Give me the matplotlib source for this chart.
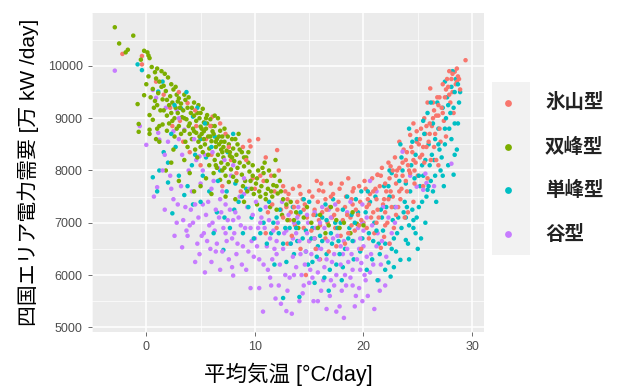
import numpy as np
import matplotlib
matplotlib.use("Agg")
import matplotlib.pyplot as plt

# daily mean temperature [degC] vs. Shikoku area demand [10^4 kW/day], by load-curve type
labels = ["氷山型", "双峰型", "単峰型", "谷型"]
colors = ["#F8766D", "#7CAE00", "#00BFC4", "#C77CFF"]
x_ticks = [0, 10, 20, 30]
y_ticks = [5000, 6000, 7000, 8000, 9000, 10000]

hyozan = [
    (-2.2, 10230), (-0.4, 10190), (-0.4, 10030), (0.9, 9700), (1.6, 9450), (2.2, 9200), (3.8, 9290),
    (3.1, 8950), (4.6, 8850), (6.1, 9030), (5.5, 8600), (6.8, 8900), (7.3, 8700), (4.0, 8350),
    (6.0, 8300), (7.8, 8200), (8.9, 8450), (9.5, 8570), (10.3, 8600), (9.6, 8460), (12.05, 8390),
    (8.3, 7950), (9.8, 7850), (10.8, 7800), (11.5, 7900), (7.0, 7700), (10.0, 7650), (11.8, 7600),
    (12.6, 7700), (8.7, 7600), (2.4, 8850), (5.0, 8100), (3.4, 8550), (12.2, 8000), (11.0, 8250),
    (12.8, 7600), (13.5, 7650), (14.2, 7550), (13.0, 7450), (13.9, 7400), (14.6, 7350), (15.3, 7500),
    (15.9, 7620), (16.5, 7450), (17.2, 7550), (17.8, 7650), (18.4, 7500), (19.0, 7600), (19.6, 7700),
    (12.4, 7250), (13.3, 7200), (14.0, 7150), (14.8, 7100), (15.5, 7250), (16.2, 7200), (16.9, 7300),
    (17.6, 7250), (18.3, 7300), (19.0, 7350), (19.7, 7400), (13.7, 6950), (14.5, 6900), (15.2, 6850),
    (16.0, 6950), (16.7, 7000), (17.4, 6900), (18.1, 7050), (18.8, 7100), (19.5, 7150), (15.0, 6650),
    (16.5, 6700), (17.9, 6750), (19.2, 6850), (14.2, 6500), (16.0, 6300), (11.2, 7200), (12.0, 6900),
    (11.0, 6800), (13.0, 6600), (17.0, 7750), (15.7, 7800), (14.7, 6000), (19.1, 7660), (18.6, 7850),
    (13.2, 7050), (15.9, 7050), (17.1, 7100), (18.9, 6950), (14.4, 7450), (16.3, 7600), (12.9, 7300),
    (20.0, 7000), (20.3, 7300), (20.6, 7550), (20.9, 7200), (21.2, 7450), (21.5, 7700), (21.8, 7350),
    (22.1, 7600), (22.4, 7850), (22.7, 7500), (23.0, 7750), (23.3, 8050), (23.6, 7900), (23.9, 8200),
    (24.2, 8000), (24.5, 8350), (24.8, 8150), (25.1, 8500), (25.4, 8300), (25.7, 8700), (26.0, 8550),
    (26.3, 8850), (26.6, 8700), (26.9, 9050), (27.2, 9200), (27.5, 9400), (27.8, 9600), (28.1, 9750),
    (28.4, 9890), (28.7, 9800), (29.4, 10110), (28.0, 9300), (27.4, 8950), (26.5, 9150), (25.9, 9300),
    (20.2, 7650), (20.8, 7850), (21.3, 7920), (21.7, 8050), (22.0, 7200), (22.5, 8080), (22.9, 8250),
    (23.3, 8550), (23.7, 8400), (24.3, 8680), (24.6, 8900), (24.9, 8550), (25.3, 8800), (25.6, 9000),
    (26.15, 9570), (26.4, 9300), (26.8, 9400), (27.0, 8800), (27.3, 9650), (27.7, 9750), (28.2, 9500),
    (28.5, 9650), (28.9, 9550), (28.3, 9100), (27.6, 8650), (26.2, 8200), (25.0, 7900), (24.0, 7600),
    (23.2, 7300), (22.2, 7000), (21.0, 6800), (20.5, 6700), (23.8, 7100), (24.6, 7400), (25.5, 7700),
    (21.4, 7100), (22.8, 6900), (21.6, 6520), (21.9, 6730), (21.3, 7916), (22.5, 7600), (23.5, 7650),
    (24.1, 8100), (25.2, 8250), (26.1, 8900), (26.9, 9250), (27.9, 9450), (20.7, 7100), (21.1, 7650),
    (22.3, 8150), (23.1, 8000), (24.4, 8450), (25.8, 8450), (27.1, 8550), (28.6, 9700), (22.6, 7300),
    (24.7, 7750), (26.7, 8200), (20.4, 7450), (21.9, 7450), (23.4, 7450),
    (13.1, 7550), (13.6, 7300), (14.1, 7700), (14.5, 7250), (15.0, 7600), (15.4, 7150), (15.8, 7400),
    (16.1, 7750), (16.6, 7250), (17.0, 7500), (17.3, 7150), (17.7, 7400), (18.0, 7750), (18.5, 7150),
    (18.9, 7450), (19.3, 7250), (19.8, 7050), (20.1, 7800), (20.5, 7350), (20.9, 7600), (21.3, 7250),
    (21.6, 7900), (22.0, 7750), (22.3, 7450), (22.7, 8000), (23.0, 7900), (23.3, 7600), (23.6, 8150),
    (24.0, 8350), (24.3, 7950), (24.6, 8200), (24.9, 8750), (25.2, 8600), (25.5, 8450), (25.8, 8850),
    (26.1, 8700), (26.4, 9000), (26.7, 9050), (27.0, 9400), (27.3, 9100), (27.6, 9550), (27.9, 9900),
    (28.2, 9850), (28.6, 9950), (28.8, 9750), (26.5, 8450), (25.6, 8150), (24.7, 8000), (23.9, 7800),
    (23.0, 7150), (22.0, 6950), (21.2, 7000), (20.3, 6900), (19.6, 6950), (18.6, 6800), (17.5, 6550),
    (12.6, 7100), (11.6, 7350), (10.5, 7900), (9.2, 8200), (7.6, 8450), (5.9, 8850), (4.5, 9150),
    (3.0, 9500), (13.4, 6750), (15.6, 6500), (16.8, 6450), (18.3, 6600), (19.8, 6500), (22.4, 6600),
    (24.1, 7200), (25.9, 7850), (26.9, 8100),
]

sohou = [
    (-2.9, 10740), (-1.2, 10580), (-2.5, 10430), (-1.7, 10310), (-1.9, 10260), (-0.2, 10290),
    (0.1, 10260), (0.2, 10200), (0.3, 10150), (-0.5, 10120),
    (0.5, 9980), (1.0, 9950), (0.8, 9880), (1.4, 9900), (1.7, 9850), (0.2, 9800), (0.9, 9760),
    (1.2, 9700), (2.0, 9780), (2.3, 9650), (1.6, 9620), (0.6, 9560), (1.1, 9480), (1.8, 9520),
    (2.5, 9550), (-0.2, 9440), (2.2, 9420), (1.5, 9360), (0.8, 9330), (-0.8, 9270), (2.8, 9450),
    (3.0, 9380), (0.3, 9060), (0.6, 8970), (1.2, 8850), (0.3, 8780), (-0.7, 8740), (-0.7, 8890),
    (2.4, 9300), (3.2, 9280), (3.6, 9350), (2.7, 9200), (3.4, 9150), (2.9, 9100), (3.8, 9200),
    (4.1, 9100), (2.6, 9000), (3.3, 9020), (4.4, 9050), (3.7, 8980), (2.1, 8900), (3.0, 8850),
    (4.0, 8900), (4.6, 8950), (1.5, 8880), (1.9, 8760), (0.3, 8700), (3.5, 8760), (4.3, 8800),
    (2.6, 8650), (1.2, 8550), (0.9, 8600), (2.1, 9250), (2.9, 9320), (3.9, 9400), (4.4, 9300),
    (1.3, 9150), (1.9, 9050), (2.4, 8950), (3.5, 9000),
    (4.8, 9250), (5.2, 9180), (5.6, 9060), (4.9, 9000), (5.3, 8920), (5.9, 8980), (6.3, 9050),
    (6.6, 9000), (5.0, 8840), (5.5, 8800), (6.0, 8850), (4.6, 8720), (5.1, 8700), (5.7, 8650),
    (6.2, 8700), (6.8, 8760), (4.2, 8600), (4.8, 8550), (5.4, 8500), (6.0, 8560), (6.5, 8600),
    (7.0, 8650), (3.8, 8450), (4.5, 8400), (5.2, 8350), (5.8, 8420), (6.4, 8450), (5.6, 8900),
    (6.1, 8750), (4.9, 8650), (5.3, 8600), (6.7, 8500), (7.2, 8800), (5.0, 9100), (4.0, 8700),
    (7.2, 8550), (7.6, 8500), (6.9, 8400), (7.4, 8380), (8.0, 8420), (8.4, 8500), (6.6, 8300),
    (7.1, 8250), (7.7, 8280), (8.3, 8300), (8.8, 8350), (6.3, 8200), (6.9, 8150), (7.5, 8120),
    (8.1, 8180), (8.6, 8150), (9.2, 8250), (5.8, 8100), (6.5, 8050), (7.0, 8000), (7.8, 8020),
    (8.4, 8050), (9.0, 8080), (6.2, 7950), (7.3, 7900), (8.0, 7880), (8.8, 7920), (9.5, 7980),
    (5.5, 7850), (6.8, 7820), (7.6, 7780), (9.1, 7800), (7.9, 8600), (8.5, 8700), (7.0, 8350),
    (9.8, 8100), (10.3, 8000), (10.8, 7950), (11.3, 8000), (11.8, 7900), (9.6, 7800), (10.1, 7750),
    (10.6, 7700), (11.2, 7650), (11.7, 7720), (12.3, 7800), (9.3, 7600), (9.9, 7550), (10.5, 7500),
    (11.0, 7450), (11.6, 7500), (12.1, 7560), (12.6, 7450), (9.0, 7400), (10.2, 7350), (11.4, 7300),
    (12.9, 7350), (13.3, 7400), (10.9, 8150), (11.9, 8200), (9.4, 8350),
    (3.5, 8200), (2.3, 8150), (4.0, 7950), (1.8, 8000), (5.0, 7700), (4.4, 7600), (6.0, 7550),
    (7.3, 7500), (8.2, 7450), (3.0, 7800),
    (13.8, 7200), (14.5, 7100), (15.2, 7000), (14.0, 6900), (16.0, 7150), (16.8, 6950), (17.5, 7050),
    (15.5, 6700), (18.2, 7000), (18.8, 6800), (19.4, 6980), (14.8, 7300), (13.0, 7050), (12.5, 7150),
    (16.5, 6800), (17.0, 7300),
    (0.0, 9650), (0.4, 9400), (1.0, 9250), (1.4, 9600), (1.9, 9350), (2.3, 9100), (2.7, 9600),
    (3.1, 9200), (3.5, 9450), (3.9, 8850), (4.2, 9200), (4.7, 9100), (5.1, 8800), (5.5, 9000),
    (5.9, 8650), (6.3, 8850), (6.7, 8650), (7.1, 8450), (7.5, 8650), (7.9, 8250), (8.2, 8600),
    (8.6, 8400), (9.0, 8250), (9.4, 8150), (9.8, 7900), (10.2, 7850), (10.7, 8050), (11.1, 7800),
    (11.5, 7600), (12.0, 7700), (12.4, 7600), (6.4, 8550), (5.3, 8750), (4.4, 8750), (3.2, 8700),
    (2.8, 8800), (1.6, 9150), (0.7, 9200), (6.9, 8550), (7.7, 8350), (8.3, 7800), (8.9, 7700),
    (9.7, 7650), (10.4, 7600), (11.0, 7550), (5.0, 8450), (5.7, 8300), (6.4, 8100), (7.2, 8050),
    (3.6, 8550), (4.7, 8250), (2.5, 8400), (1.0, 8800), (12.0, 7250), (13.6, 7050), (15.8, 6900),
    (17.8, 6900), (19.0, 7200), (20.0, 6950),
]

tanpou = [
    (-0.8, 10030), (-0.4, 9920), (1.5, 9700), (1.1, 9510), (3.2, 9190), (4.3, 9030), (5.0, 8600),
    (4.5, 8300), (6.3, 8650), (7.5, 8350), (8.0, 8700), (2.7, 8450), (1.6, 8350), (2.0, 8150),
    (6.8, 8000), (0.6, 7870), (2.0, 7770), (3.5, 7530), (2.4, 7180), (5.2, 7900), (5.8, 7600),
    (4.3, 7350), (7.1, 6480), (7.7, 6900), (8.5, 7400), (9.2, 7650), (6.5, 7200), (9.7, 7100),
    (10.5, 7250), (8.9, 6800), (3.8, 7700), (1.0, 7600), (5.5, 8250), (7.2, 7100), (8.1, 7250),
    (10.8, 7000), (11.5, 6800), (12.0, 7100), (12.6, 6600), (13.2, 6900), (13.6, 6400), (14.0, 7000),
    (14.4, 6700), (14.9, 6200), (15.3, 6900), (15.8, 6550), (16.2, 7100), (16.6, 6400), (17.0, 6800),
    (17.5, 6200), (17.9, 7000), (18.3, 6500), (18.7, 6900), (19.1, 6300), (19.5, 7200), (19.9, 6700),
    (12.6, 5560), (14.1, 5580), (15.5, 5850), (16.8, 5700), (18.0, 5900), (13.5, 7300), (15.0, 7400),
    (16.5, 7350), (18.5, 7500), (11.8, 6200), (17.2, 7450), (19.3, 7450), (11.3, 7400), (12.9, 6250),
    (14.7, 6850), (16.0, 6750), (17.7, 6650), (18.9, 7150), (13.9, 6650), (15.6, 7150), (17.4, 7000),
    (19.7, 6450), (12.3, 7250), (18.1, 6150), (16.9, 6100),
    (20.2, 7200), (20.5, 6800), (20.8, 6300), (21.1, 7500), (21.4, 6600), (21.7, 7100), (22.0, 6100),
    (22.3, 7700), (22.5, 5970), (22.6, 6500), (22.9, 7300), (23.1, 6800), (23.4, 6290), (23.6, 8000),
    (23.9, 7100), (24.1, 6600), (24.3, 7600), (24.6, 6900), (24.8, 8300), (25.1, 7300), (25.3, 6700),
    (25.5, 7900), (25.8, 7500), (26.0, 8500), (26.2, 7800), (26.5, 8200), (26.7, 7400), (26.9, 8800),
    (27.1, 8000), (27.3, 9200), (27.5, 8500), (27.7, 9400), (27.9, 8800), (28.1, 9600), (28.3, 9200),
    (28.5, 9750), (28.7, 8900), (28.9, 9500), (28.6, 8400), (27.8, 8100), (26.4, 8900), (25.6, 8700),
    (24.4, 8100), (23.3, 7800), (22.1, 7300), (21.0, 7000), (28.2, 9900), (27.5, 9700), (26.8, 9300),
    (25.9, 9100), (23.8, 7400), (24.9, 7100), (25.7, 7000), (26.4, 7600), (27.4, 7700), (28.4, 8300),
    (27.3, 7900), (28.3, 7920), (25.9, 7630), (24.6, 7050), (23.9, 6670), (22.3, 6240), (23.0, 6450),
    (24.2, 6300), (25.0, 6500), (22.8, 6150), (21.5, 6400), (20.9, 6650), (24.0, 7300), (25.2, 7700),
    (26.1, 8100), (27.0, 8400), (28.0, 9100), (28.8, 9300), (26.6, 8600), (25.4, 8100), (24.7, 7850),
    (23.7, 7200), (22.7, 7050), (21.8, 6850), (20.6, 7400), (27.6, 9000), (28.4, 9500), (24.5, 8550),
    (23.5, 8250), (22.4, 8000),
    (21.2, 6850), (21.6, 7250), (22.0, 6600), (22.4, 7500), (22.8, 6700), (23.2, 7100), (23.5, 6900),
    (23.9, 7750), (24.2, 6950), (24.5, 7250), (24.8, 6800), (25.1, 7900), (25.4, 7400), (25.7, 8200),
    (26.0, 7700), (26.3, 8300), (26.6, 7900), (26.9, 8500), (27.2, 8250), (27.5, 8800), (27.8, 9250),
    (28.1, 8600), (28.4, 8900), (28.7, 9650), (26.2, 9300), (25.5, 8950), (24.9, 8600), (24.2, 8800),
    (23.4, 8500), (22.6, 7950), (21.9, 7700), (20.4, 7600), (19.8, 7600), (19.2, 7000), (18.6, 6700),
    (18.1, 7250), (17.6, 6900), (17.1, 6600), (16.6, 7050), (16.2, 6650), (15.7, 6350), (15.2, 6700),
    (14.7, 6450), (14.2, 7200), (13.8, 6900), (13.3, 6600), (12.8, 6900), (12.2, 6800), (11.7, 7000),
    (11.1, 6600), (10.5, 6800), (9.9, 6700), (9.4, 7300), (8.8, 7500), (8.2, 7750), (7.4, 7600),
    (6.6, 7800), (6.0, 8450), (5.4, 8900), (4.7, 9200), (3.7, 9500), (2.6, 9250), (2.3, 8700),
    (4.2, 8100), (3.0, 7900), (5.0, 7400), (6.2, 6800), (1.2, 8000), (19.0, 6650), (17.8, 6400),
    (16.4, 5950), (15.3, 6250), (14.5, 7450), (20.3, 6100), (21.3, 5900),
]

tani = [
    (-2.9, 9910), (-0.6, 8850), (0.0, 8490), (0.6, 9540), (0.9, 9390), (1.1, 8720), (1.2, 8590),
    (1.8, 9200), (2.8, 9160), (3.5, 8780), (4.9, 8270), (2.5, 8750), (3.0, 8600), (1.7, 8300),
    (2.2, 7900), (1.0, 7680), (1.7, 7250), (0.7, 7500), (3.3, 6530), (4.9, 6400), (8.0, 5990),
    (2.8, 7000), (3.6, 7300), (4.2, 7600), (4.8, 7100), (5.3, 6800), (5.7, 7400), (6.1, 7000),
    (6.5, 6600), (6.9, 7200), (7.3, 6800), (7.6, 6300), (8.0, 7050), (8.4, 6600), (8.8, 6200),
    (9.1, 6900), (9.4, 6450), (9.8, 7150), (3.9, 8000), (4.6, 8200), (5.4, 8300), (6.2, 7800),
    (7.0, 7600), (7.8, 7900), (8.6, 7500), (9.5, 7650), (5.0, 7750), (3.2, 7700), (2.5, 7450),
    (5.9, 6500), (4.0, 6950), (6.8, 6100), (7.3, 7350), (8.2, 7200), (2.0, 8550), (4.5, 7350),
    (5.5, 7150), (6.4, 7250), (7.1, 6900), (7.9, 6700), (8.7, 6950), (9.3, 7300), (6.0, 7650),
    (6.8, 7450), (5.1, 6750), (3.8, 6750), (4.3, 7000), (5.8, 6950), (7.5, 7050), (8.3, 6400),
    (9.7, 6650), (9.0, 7550), (5.2, 8000), (6.6, 8050),
    (10.0, 6700), (10.4, 6300), (10.75, 5300), (10.9, 6900), (11.2, 6100), (11.5, 5800), (11.8, 6500),
    (12.1, 7000), (12.3, 6200), (12.9, 5310), (13.4, 5260), (13.0, 5700), (13.3, 6600), (13.6, 6000),
    (13.9, 7100), (14.2, 6400), (14.5, 5800), (14.8, 6800), (15.1, 6100), (15.4, 5500), (15.7, 6500),
    (16.0, 7000), (16.3, 5900), (16.6, 6300), (16.9, 5600), (17.2, 6700), (17.5, 6000), (17.8, 5400),
    (18.1, 6400), (18.2, 5180), (18.4, 5800), (18.7, 6800), (19.0, 6100), (19.3, 5600), (19.6, 6500),
    (19.9, 7000), (11.0, 7300), (12.5, 7400), (14.0, 7300), (15.5, 7200), (17.0, 7100), (18.5, 7200),
    (12.7, 6800), (14.6, 6200), (10.6, 7100), (11.4, 6700), (12.0, 6400), (13.1, 7150), (13.8, 6800),
    (14.3, 6000), (15.0, 6650), (15.9, 6300), (16.4, 6900), (17.1, 6250), (17.7, 6900), (18.3, 6000),
    (18.9, 6400), (19.5, 6900), (16.1, 5700), (15.3, 5950), (12.8, 6000), (11.6, 6300), (10.3, 6900),
    (17.3, 5800), (19.2, 5400), (14.9, 7000), (13.5, 6350), (16.8, 7250), (15.6, 6900), (17.9, 6550),
    (18.6, 6250), (19.7, 6100), (11.9, 5550), (14.1, 5500), (16.6, 5350), (18.0, 5700),
    (20.1, 6000), (20.4, 5600), (20.7, 6400), (21.0, 5350), (21.3, 6800), (20.3, 7100), (21.6, 6200),
    (22.0, 5800), (21.8, 7300), (22.4, 6600), (23.6, 8360), (25.7, 7940), (25.5, 7630), (28.1, 8130),
    (24.9, 7690), (25.8, 7760), (22.9, 7000), (21.2, 7600), (20.6, 7800), (19.6, 5750), (19.8, 6230),
    (20.0, 6550), (20.2, 5900), (19.9, 5500), (21.5, 5700), (20.8, 6950), (24.3, 7900), (26.5, 7700),
    (2.3, 7650), (2.9, 7350), (3.4, 7050), (3.7, 6850), (4.1, 7250), (4.7, 6600), (5.2, 7350),
    (5.6, 6650), (6.0, 6250), (6.3, 6850), (6.7, 7100), (7.0, 6450), (7.4, 6650), (7.7, 7250),
    (8.1, 6800), (8.5, 7100), (8.9, 6550), (9.2, 6100), (9.6, 6900), (9.9, 6350), (10.2, 6550),
    (10.5, 7000), (10.8, 6200), (11.1, 6550), (11.4, 5950), (11.7, 6850), (12.0, 6650), (12.2, 5800),
    (12.6, 6500), (12.9, 6850), (13.2, 5950), (13.5, 6700), (13.8, 6150), (14.1, 6650), (14.4, 5650),
    (14.7, 6450), (15.0, 5850), (15.2, 6400), (15.5, 6700), (15.8, 6050), (16.1, 6500), (16.4, 6150),
    (16.7, 6650), (17.0, 5900), (17.3, 6400), (17.6, 6750), (17.9, 6200), (18.2, 6650), (18.5, 6500),
    (18.8, 5950), (19.1, 6650), (19.4, 6300), (19.7, 6700), (20.0, 6850), (20.3, 6350), (20.6, 6050),
    (20.9, 6200), (21.2, 6550), (21.4, 5900), (21.7, 6650), (22.1, 6350), (22.3, 7100), (22.6, 6800),
    (23.0, 7300), (13.6, 7000), (14.8, 7150), (16.2, 7300), (17.4, 7350), (18.8, 7400), (19.9, 7350),
    (11.3, 7050), (10.1, 7400), (9.0, 7850), (8.0, 8100), (7.2, 8200), (6.1, 8350), (4.4, 8600),
    (3.3, 8300), (3.0, 9000), (1.5, 8000), (2.6, 6750), (4.5, 6250), (5.4, 6050), (6.4, 6450),
    (7.9, 6150), (9.6, 5750), (10.4, 5750), (12.4, 5450), (15.8, 5500), (17.5, 5300), (19.0, 5800),
]

groups = [hyozan, sohou, tanpou, tani]

# interleave the groups so no single colour sits on top of the others
pts, cols, order = [], [], []
for g, (data, c) in enumerate(zip(groups, colors)):
    for i, p in enumerate(data):
        pts.append(p)
        cols.append(c)
        order.append(i * 4 + g)
pts = np.array(pts, dtype=float)
idx = np.argsort(order)
pts = pts[idx]
cols = [cols[i] for i in idx]

plt.rcParams['font.family'] = ['Liberation Sans', 'DejaVu Sans']
jp = ['Noto Sans CJK JP', 'DejaVu Sans']
mixed = ['Liberation Sans', 'Noto Sans CJK JP', 'DejaVu Sans']

fig = plt.figure(figsize=(6.18, 3.9), dpi=100)
ax = fig.add_axes([92/618, 1-332/390, 392/618, 319/390])
ax.set_facecolor('#EBEBEB')
for s in ax.spines.values():
    s.set_visible(False)

ax.scatter(pts[:, 0], pts[:, 1], s=10.5, c=cols, linewidths=0, zorder=3)

ax.set_xlim(-4.5, 31.1)
ax.set_ylim(4910, 11013)
ax.set_xticks(x_ticks)
ax.set_xticks([-5, 5, 15, 25], minor=True)
ax.set_yticks(y_ticks)
ax.set_yticks([5500, 6500, 7500, 8500, 9500, 10500], minor=True)
ax.grid(which='major', color='white', lw=1.1)
ax.grid(which='minor', color='white', lw=0.5)
ax.set_axisbelow(True)
ax.tick_params(which='major', length=2.75, width=0.5, color='#333333',
               labelsize=9, labelcolor='#4D4D4D', pad=4)
ax.tick_params(which='minor', length=0)

ax.set_xlabel('平均気温 [°C/day]', family=mixed, fontsize=15.5, labelpad=7)
ax.set_ylabel('四国エリア電力需要 [万 kW /day]', family=mixed, fontsize=15, labelpad=6)

# legend: grey key strip with coloured dots, labels to the right
lax = fig.add_axes([492/618, 1-255/390, 38/618, 173/390])
lax.set_facecolor('#F2F2F2')
lax.set_xlim(492, 530)
lax.set_ylim(255, 82)
lax.set_xticks([])
lax.set_yticks([])
for s in lax.spines.values():
    s.set_visible(False)
key_y = [103, 147, 190, 234]
for yk, c, lab in zip(key_y, colors, labels):
    lax.scatter([508], [yk], s=24, color=c, linewidths=0)
    fig.text(545/618, 1 - yk/390, lab, family=jp, fontsize=14, fontweight='bold',
             va='center', ha='left', color='#222222')

fig.savefig('out.png', dpi=100)
